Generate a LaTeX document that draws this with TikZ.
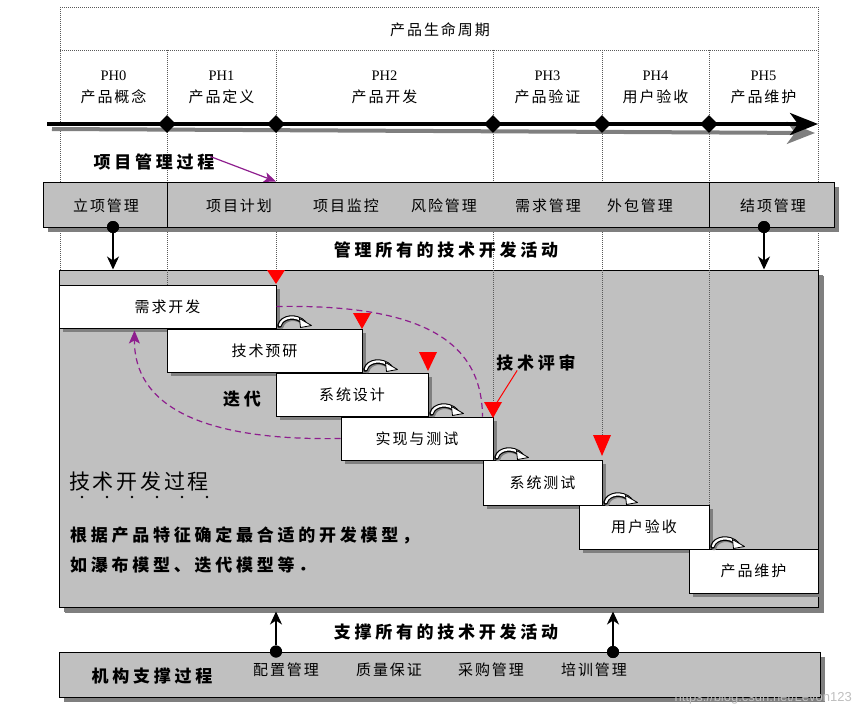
\documentclass[tikz,border=0pt]{standalone}
\usepackage{fontspec}
\setmainfont{Liberation Serif}
\newfontfamily\cjk[LetterSpace=13]{Noto Sans CJK SC}
\newfontfamily\cjkw[LetterSpace=22]{Noto Sans CJK SC}
\newfontfamily\wmfont{Liberation Sans}
\usetikzlibrary{arrows.meta,shadows,shapes.geometric,calc}
\definecolor{boxgray}{HTML}{C0C0C0}
\definecolor{shgray}{HTML}{7F7F7F}
\definecolor{iterpurple}{HTML}{8E1E8E}
\definecolor{revred}{HTML}{FF0000}
\tikzset{
  guide/.style={draw=black!65, line width=0.6pt, dash pattern=on 0.7pt off 1.3pt},
  lbl/.style={inner sep=0pt, font=\cjk\fontsize{15}{18}\selectfont},
  phl/.style={inner sep=0pt, font=\fontsize{14.5}{16}\selectfont},
  blbl/.style={inner sep=0pt, font=\cjkw\bfseries\fontsize{17}{20}\selectfont},
  graybar/.style={draw=black, line width=1pt, fill=boxgray, inner sep=0pt,
    drop shadow={shadow xshift=5pt, shadow yshift=-5pt, fill=shgray, opacity=1}},
  stepbox/.style={draw=black, line width=1pt, fill=white, inner sep=0pt,
    font=\cjk\fontsize{15}{18}\selectfont,
    drop shadow={shadow xshift=4pt, shadow yshift=-4pt, fill=shgray, opacity=1}},
  dot/.style={circle, fill=black, inner sep=0pt, minimum size=12pt},
  ms/.style={diamond, fill=black, inner sep=0pt, minimum size=18pt},
  arr/.style={line width=1.2pt, -{Stealth[length=13pt, width=12pt, inset=4pt]}},
  iter/.style={iterpurple, line width=1.2pt, dash pattern=on 6pt off 4pt},
  hookarr/.pic={
    \draw[line width=4.6pt, shgray, line cap=round] (1.5,1.5) .. controls (4,-8) and (18,-10) .. (26,-1);
    \draw[line width=4.6pt, black, line cap=round] (0,0) .. controls (2.5,-9) and (17,-11) .. (25,-2.5);
    \draw[line width=2.2pt, white, line cap=round] (0.3,-0.3) .. controls (2.5,-9) and (17,-11) .. (24.5,-3);
    \filldraw[fill=white, draw=black, line width=0.8pt, line join=round] (20,-7) -- (32,0) -- (21,2) -- cycle;
  }
}
\begin{document}
\begin{tikzpicture}[x=1pt,y=-1pt]
\useasboundingbox (0,0) rectangle (856,717);
\fill[white] (0,0) rectangle (856,717);

% technical development box (behind guides)
\node[graybar, drop shadow={shadow xshift=6pt, shadow yshift=-6pt, fill=shgray, opacity=1},
  minimum width=759pt, minimum height=337pt] (tb) at (438.5,438.5) {};

% dotted guide lines
\draw[guide] (60,7) -- (818,7);
\draw[guide] (60,50) -- (818,50);
\draw[guide] (60,7) -- (60,270);
\draw[guide] (818,7) -- (818,270);
\draw[guide] (167,50) -- (167,285);
\draw[guide] (276,50) -- (276,270);
\draw[guide] (493,50) -- (493,404);
\draw[guide] (602,50) -- (602,436);
\draw[guide] (709,50) -- (709,505);

% title and phases
\node[lbl] (title) at (440,30) {产品生命周期};
\node[phl] (ph0) at (113.5,76) {PH0};
\node[lbl] (ph0n) at (113.5,97) {产品概念};
\node[phl] (ph1) at (221.5,76) {PH1};
\node[lbl] (ph1n) at (221.5,97) {产品定义};
\node[phl] (ph2) at (384.5,76) {PH2};
\node[lbl] (ph2n) at (384.5,97) {产品开发};
\node[phl] (ph3) at (547.5,76) {PH3};
\node[lbl] (ph3n) at (547.5,97) {产品验证};
\node[phl] (ph4) at (655.5,76) {PH4};
\node[lbl] (ph4n) at (655.5,97) {用户验收};
\node[phl] (ph5) at (763.5,76) {PH5};
\node[lbl] (ph5n) at (763.5,97) {产品维护};

% timeline
\coordinate (tl0) at (47,124);
\coordinate (tl1) at (818,124);
\draw[shgray, line width=4pt, -{Stealth[length=28pt, width=22pt, inset=8pt]}] ([shift={(5,5)}]tl0) -- ([shift={(-3,9)}]tl1);
\draw[black, line width=3.5pt, -{Stealth[length=28pt, width=22pt, inset=8pt]}] (tl0) -- (tl1);
\node[ms] (d1) at (167,124) {};
\node[ms] (d2) at (276,124) {};
\node[ms] (d3) at (493,124) {};
\node[ms] (d4) at (602,124) {};
\node[ms] (d5) at (709,124) {};

% project management bar
\node[graybar, minimum width=791pt, minimum height=45pt] (pm) at (438.5,204.5) {};
\draw[line width=1pt] (pm.north -| d1) -- (pm.south -| d1);
\draw[line width=1pt] (pm.north -| d5) -- (pm.south -| d5);
\node[lbl] (m1) at (106,206) {立项管理};
\node[lbl] (m2) at (239,206) {项目计划};
\node[lbl] (m3) at (346,206) {项目监控};
\node[lbl] (m4) at (444,206) {风险管理};
\node[lbl] (m5) at (548,206) {需求管理};
\node[lbl] (m6) at (640,206) {外包管理};
\node[lbl] (m7) at (773,206) {结项管理};

\node[blbl] (pmlbl) at (154,162) {项目管理过程};
\draw[iterpurple, line width=1.2pt, -{Stealth[length=12pt, width=10pt, inset=3pt]}]
  ([xshift=-4pt, yshift=-3pt]pmlbl.north east) -- (pm.north -| d2);

% management arrows
\node[dot] (c1) at (113,227) {};
\node[dot] (c2) at (764,227) {};
\draw[arr] (c1) -- (c1 |- tb.north);
\draw[arr] (c2) -- (c2 |- tb.north);
\node[dot] at (113,227) {};
\node[dot] at (764,227) {};
\node[blbl] (mall) at (446,250) {管理所有的技术开发活动};

% steps
\node[stepbox, minimum width=217pt, minimum height=43pt] (s1) at (167.5,306.5) {需求开发};
\node[stepbox, minimum width=195pt, minimum height=43pt] (s2) at (264.5,350.5) {技术预研};
\node[stepbox, minimum width=152pt, minimum height=43pt] (s3) at (352,394.5) {系统设计};
\node[stepbox, minimum width=152pt, minimum height=43pt] (s4) at (417,438.5) {实现与测试};
\node[stepbox, minimum width=119pt, minimum height=45pt] (s5) at (542.5,482.5) {系统测试};
\node[stepbox, minimum width=130pt, minimum height=44pt] (s6) at (644,527) {用户验收};
\node[stepbox, minimum width=129pt, minimum height=44pt] (s7) at (753.5,571) {产品维护};

% hook arrows between steps
\pic at ([shift={(3,-3)}]s1.south east) {hookarr};
\pic at ([shift={(3,-3)}]s2.south east) {hookarr};
\pic at ([shift={(3,-3)}]s3.south east) {hookarr};
\pic at ([shift={(3,-3)}]s4.south east) {hookarr};
\pic at ([shift={(3,-3)}]s5.south east) {hookarr};
\pic at ([shift={(3,-3)}]s6.south east) {hookarr};

% review triangles
\fill[revred] (267,270) -- (285,270) -- (276,284) -- cycle;
\fill[revred] (353,313) -- (371,313) -- (362,329) -- cycle;
\fill[revred] (419,352) -- (437,352) -- (428,371) -- cycle;
\fill[revred] (484,402) -- (502,402) -- (493,418) -- cycle;
\fill[revred] (593,435) -- (611,435) -- (602,456) -- cycle;

% iteration arcs
\draw[iter] (s1.east) .. controls (420,304) and (482,340) .. ([xshift=-11pt]s4.north east);
\draw[iter, -{Stealth[length=13pt, width=11pt, inset=3pt]}]
  (s4.west) .. controls (200,441) and (134,405) .. ([shift={(76,2)}]s1.south west);
\node[blbl] (itl) at (242,399) {迭代};

\node[blbl] (rev) at (536,363) {技术评审};
\coordinate (t4) at (496,404);
\draw[revred, line width=1pt] ([xshift=21pt, yshift=1pt]rev.south west) -- (t4);

% description
\node[inner sep=0pt, anchor=west, font=\cjk\fontsize{21}{24}\selectfont] (tdp) at (69,482) {技术开发过程};
\foreach \i in {0,...,5} \fill (82+25*\i,497) circle (1.3pt);
\node[inner sep=0pt, anchor=west, font=\cjkw\bfseries\fontsize{17}{20}\selectfont] (d1t) at (70,535) {根据产品特征确定最合适的开发模型，};
\node[inner sep=0pt, anchor=west, font=\cjkw\bfseries\fontsize{17}{20}\selectfont] (d2t) at (70,565) {如瀑布模型、迭代模型等．};

% organisational support
\node[graybar, minimum width=761pt, minimum height=45pt] (ob) at (439.5,674.5) {};
\node[dot] (c3) at (ob.north -| d2) {};
\node[dot] (c4) at (613,652) {};
\draw[arr] (c3) -- ([yshift=-4pt]c3 |- tb.south);
\draw[arr] (c4) -- ([yshift=-4pt]c4 |- tb.south);
\node[dot] at (c3) {};
\node[dot] at (c4) {};
\node[blbl] (sall) at (446,632) {支撑所有的技术开发活动};
\node[blbl] (oblbl) at (152,676) {机构支撑过程};
\node[lbl] (o1) at (286,670) {配置管理};
\node[lbl] (o2) at (389,670) {质量保证};
\node[lbl] (o3) at (491,670) {采购管理};
\node[lbl] (o4) at (594,670) {培训管理};

% watermark
\node[inner sep=0pt, anchor=east, text=black!25, font=\wmfont\fontsize{13}{14}\selectfont] (wm) at (852,698) {https://blog.csdn.net/Levon123};
\end{tikzpicture}
\end{document}
